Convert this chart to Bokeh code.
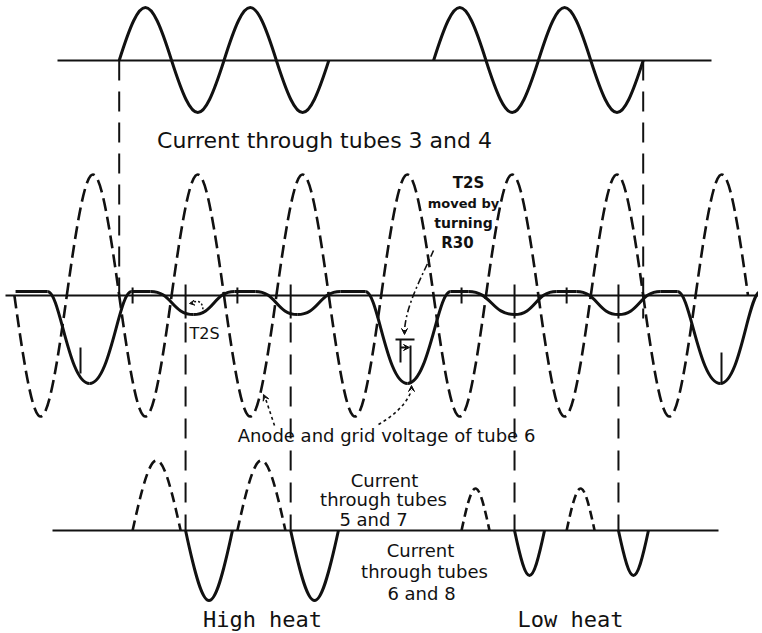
import numpy as np
from bokeh.plotting import figure
from bokeh.models import Range1d, Arrow, VeeHead
from bokeh.core.properties import value
from bokeh.embed import file_html
from bokeh.resources import INLINE

# ---------------- data: x in electrical degrees of the supply, y in drawing units ----------------
# Anode and grid voltage of tube 6 (dashed): zero crossings and half-wave peaks
anode_zero = [-180, 0, 180, 360, 540, 720, 900, 1080, 1260, 1440, 1620, 1800, 1980, 2160, 2340]
anode_peak = [-121, 121, -121, 121, -121, 121, -121, 121, -121, 121, -121, 121, -121, 121]

# Current through tubes 3 and 4: two bursts
t34_zero = [[180, 360, 540, 720, 900], [1260, 1440, 1620, 1800, 1980]]
t34_peak = [[53, -52, 53, -52], [53, -52, 53, -52]]

# Grid wave of tube 6 (solid, middle): flat top with dips
grid_start = -176
grid_top = 4
dip_start = [-66, 288, 648, 1026, 1380, 1751, 2098]
dip_center = [78, 435, 792, 1170, 1538, 1895, 2245]
dip_end = [222, 576, 940, 1318, 1682, 2039, 2383]
dip_depth = [-88, -19, -19, -88, -19, -19, -88]

# Current through tubes 5 and 7 (dashed) and 6 and 8 (solid)
high57_start = [226, 586]
high57_end = [391, 751]
high57_peak = [70, 70]
high68_start = [408, 769]
high68_end = [569, 933]
high68_peak = [-70, -70]
low57_start = [1356, 1717]
low57_end = [1452, 1813]
low57_peak = [42, 42]
low68_start = [1538, 1895]
low68_end = [1641, 1998]
low68_peak = [-45, -45]

# ---------------- layout helpers (page pixel -> drawing units) ----------------
W, H = 758, 631
PX_PER_DEG = 104.8 / 360.0
X0_PX = 66.3


def xd(px):
    return (px - X0_PX) / PX_PER_DEG


def yd(py):
    return H - py


TOP_BASE = yd(60)
MID_BASE = yd(295)
BOT_BASE = yd(530)

p = figure(width=W, height=H, output_backend="svg", toolbar_location=None,
           x_range=Range1d(xd(0), xd(W)), y_range=Range1d(0, H),
           min_border=0, outline_line_color=None, background_fill_color="white")
p.axis.visible = False
p.grid.visible = False

INK = "#111111"
FONT = "DejaVu Sans"


def half_waves(starts, ends, peaks, base, **kw):
    x0 = np.asarray(starts, float)
    x1 = np.asarray(ends, float)
    h = np.asarray(peaks, float)
    w = x1 - x0
    p.bezier(x0=x0, y0=base + 0 * h, x1=x1, y1=base + 0 * h,
             cx0=x0 + 0.4244 * w, cy0=base + 4 / 3 * h,
             cx1=x1 - 0.4244 * w, cy1=base + 4 / 3 * h, line_color=INK, **kw)


# baselines
p.segment(x0=[xd(57), xd(5), xd(52)], y0=[TOP_BASE, MID_BASE, BOT_BASE],
          x1=[xd(711), xd(758), xd(718)], y1=[TOP_BASE, MID_BASE, BOT_BASE],
          line_color=INK, line_width=2)

# top: current through tubes 3 and 4
for zs, pk in zip(t34_zero, t34_peak):
    half_waves(zs[:-1], zs[1:], pk, TOP_BASE, line_width=3)

# middle: anode voltage (dashed)
half_waves(anode_zero[:-1], anode_zero[1:], anode_peak, MID_BASE, line_width=2.6, line_dash="13 6")

# middle: grid wave (solid)
ds = np.asarray(dip_start, float)
dc = np.asarray(dip_center, float)
de = np.asarray(dip_end, float)
dd = np.asarray(dip_depth, float)
steep = np.abs(dd) > 50
a = np.where(steep, 0.3, 0.5)
b = np.where(steep, 0.5, 0.5)
top = MID_BASE + grid_top
p.bezier(x0=ds, y0=top + 0 * dd, x1=dc, y1=MID_BASE + dd,
         cx0=ds + a * (dc - ds), cy0=top + 0 * dd, cx1=dc - b * (dc - ds), cy1=MID_BASE + dd,
         line_color=INK, line_width=3)
p.bezier(x0=dc, y0=MID_BASE + dd, x1=de, y1=top + 0 * dd,
         cx0=dc + b * (de - dc), cy0=MID_BASE + dd, cx1=de - a * (de - dc), cy1=top + 0 * dd,
         line_color=INK, line_width=3)
flat_x0 = np.concatenate([[grid_start], de[:-1]])
flat_x1 = ds
p.segment(x0=flat_x0, y0=top + 0 * flat_x0, x1=flat_x1, y1=top + 0 * flat_x0, line_color=INK, line_width=3)

# bottom: currents
half_waves(high57_start, high57_end, high57_peak, BOT_BASE, line_width=2.6, line_dash="10 6")
half_waves(low57_start, low57_end, low57_peak, BOT_BASE, line_width=2.6, line_dash="9 5")
half_waves(high68_start, high68_end, high68_peak, BOT_BASE, line_width=3)
half_waves(low68_start, low68_end, low68_peak, BOT_BASE, line_width=3)

# vertical dashed timing lines
upper_x = [t34_zero[0][0], t34_zero[-1][-1]]
p.segment(x0=upper_x, y0=[TOP_BASE, TOP_BASE], x1=upper_x, y1=[yd(296), yd(318)],
          line_color=INK, line_width=2, line_dash="20 11")
lower_x = high68_start + low68_start
p.segment(x0=lower_x, y0=[yd(322)] * 4, x1=lower_x, y1=[BOT_BASE] * 4,
          line_color=INK, line_width=2, line_dash="20 12")
# solid T2S ticks across shallow dips
p.segment(x0=lower_x, y0=[yd(284)] * 4, x1=lower_x, y1=[yd(318)] * 4, line_color=INK, line_width=2)
# small ticks on the grid plateau
small_x = high57_start + low57_start
p.segment(x0=small_x, y0=[yd(287)] * 4, x1=small_x, y1=[yd(303)] * 4, line_color=INK, line_width=2)

# ticks inside big lobes and the T2S bracket
p.segment(x0=[xd(80), xd(721), xd(400), xd(410), xd(395)],
          y0=[yd(347), yd(352), yd(339), yd(345), yd(339)],
          x1=[xd(80), xd(721), xd(400), xd(410), xd(414)],
          y1=[yd(373), yd(383), yd(362), yd(382), yd(339)],
          line_color=INK, line_width=2)
head = dict(size=6, line_color=INK, fill_color=INK, line_width=1)
p.add_layout(Arrow(x_start=xd(400), y_start=yd(347), x_end=xd(409), y_end=yd(347),
                   line_color=INK, line_width=2, end=VeeHead(**head)))

# dash-dot leader from "R30"
p.bezier(x0=[xd(433)], y0=[yd(250)], x1=[xd(404)], y1=[yd(331)],
         cx0=[xd(422)], cy0=[yd(275)], cx1=[xd(405)], cy1=[yd(305)],
         line_color=INK, line_width=1.6, line_dash="7 3 2 3")
p.add_layout(Arrow(x_start=xd(404), y_start=yd(325), x_end=xd(404), y_end=yd(334),
                   line_alpha=0, end=VeeHead(**head)))

# dotted leaders from "Anode and grid voltage of tube 6"
p.segment(x0=[xd(274)], y0=[yd(425)], x1=[xd(265)], y1=[yd(398)],
          line_color=INK, line_width=1.6, line_dash="3 3")
p.add_layout(Arrow(x_start=xd(267), y_start=yd(403), x_end=xd(263), y_end=yd(394),
                   line_alpha=0, end=VeeHead(**head)))
p.bezier(x0=[xd(378)], y0=[yd(424)], x1=[xd(411)], y1=[yd(390)],
         cx0=[xd(392)], cy0=[yd(416)], cx1=[xd(406)], cy1=[yd(404)],
         line_color=INK, line_width=1.6, line_dash="3 3")
p.add_layout(Arrow(x_start=xd(411), y_start=yd(393), x_end=xd(411), y_end=yd(385),
                   line_alpha=0, end=VeeHead(**head)))
# tiny T2S arrow (left)
p.bezier(x0=[xd(202)], y0=[yd(313)], x1=[xd(192)], y1=[yd(302)],
         cx0=[xd(204)], cy0=[yd(302)], cx1=[xd(198)], cy1=[yd(299)],
         line_color=INK, line_width=1.5, line_dash="2 2")
p.add_layout(Arrow(x_start=xd(195), y_start=yd(302), x_end=xd(189), y_end=yd(303),
                   line_alpha=0, end=VeeHead(size=5, line_color=INK, fill_color=INK)))

# ---------------- texts ----------------
labels = [
    ("Current through tubes 3 and 4", 324, 140, 22, "normal"),
    ("T2S", 204, 333, 16, "normal"),
    ("T2S", 468, 182, 15, "bold"),
    ("moved by", 463, 203, 13, "bold"),
    ("turning", 463, 222, 14, "bold"),
    ("R30", 457, 242, 15, "bold"),
    ("Anode and grid voltage of tube 6", 386, 435, 18, "normal"),
    ("Current", 384, 480, 18, "normal"),
    ("through tubes", 383, 499, 18, "normal"),
    ("5 and 7", 373, 519, 18, "normal"),
    ("Current", 420, 550, 18, "normal"),
    ("through tubes", 424, 571, 18, "normal"),
    ("6 and 8", 421, 593, 18, "normal"),
]
for txt, px, py, fs, wt in labels:
    p.text(x=[xd(px)], y=[yd(py)], text=[txt], text_align="center", text_baseline="middle",
           text_font=value(FONT), text_font_size=f"{fs}px", text_font_style=wt, text_color=INK)

for txt, px in [("High heat", 262), ("Low heat", 570)]:
    p.text(x=[xd(px)], y=[yd(619)], text=[txt], text_align="center", text_baseline="middle",
           text_font=value("DejaVu Sans Mono"), text_font_size="22px", text_color=INK)

open("out.html", "w").write(file_html(p, INLINE))
